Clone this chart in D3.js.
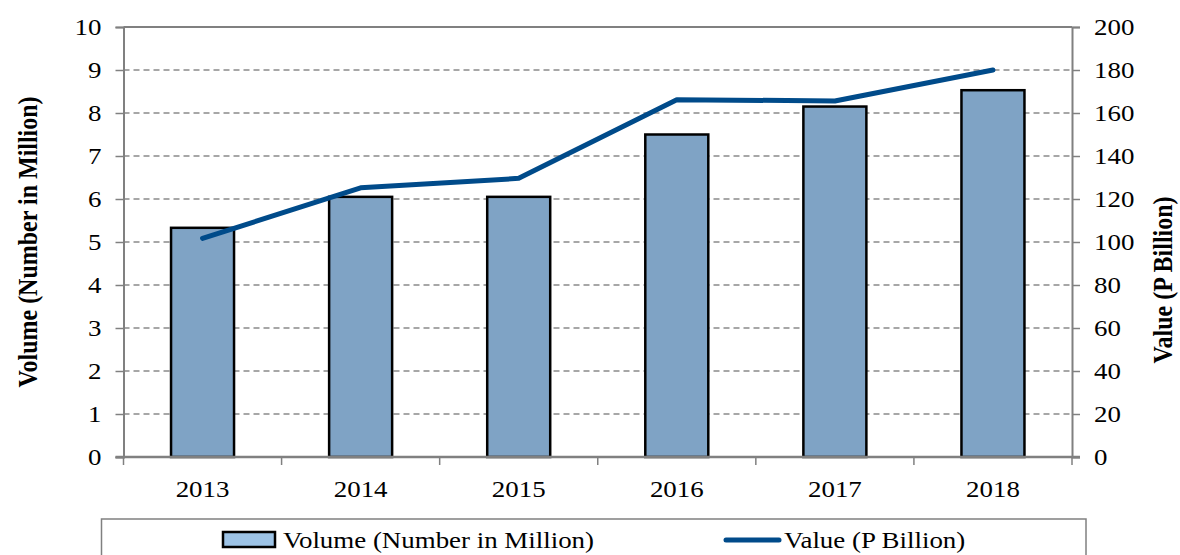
<!DOCTYPE html>
<html><head><meta charset="utf-8">
<script src="https://cdn.jsdelivr.net/npm/d3@7"></script>
<style>body{margin:0;background:#fff}svg{display:block}text{font-family:"Liberation Serif","Times New Roman",serif;fill:#000}</style>
</head><body>
<svg id="c" width="1180" height="555"></svg>
<script>
const years = ["2013","2014","2015","2016","2017","2018"];
const volume = [5.33, 6.05, 6.05, 7.5, 8.15, 8.53];
const value = [101.7, 125.2, 129.6, 166.2, 165.6, 180];
const leftTicks = [0,1,2,3,4,5,6,7,8,9,10];
const rightTicks = [0,20,40,60,80,100,120,140,160,180,200];

const SX = 1.17; // horizontal stretch of glyphs in the reference
const svg = d3.select("#c");
const L = 123.5, R = 1072, T = 27, B = 457;
const xb = d3.scaleBand().domain(years).range([L, R]);
const yL = d3.scaleLinear().domain([0,10]).range([B, T]);
const yR = d3.scaleLinear().domain([0,200]).range([B, T]);

function stretched(sel, x, y, txt, anchor) {
  return sel.append("text")
    .attr("transform", `translate(${x},${y}) scale(${SX},1)`)
    .attr("text-anchor", anchor || "start").attr("font-size", 23).text(txt);
}

// gridlines
svg.append("g").selectAll("line").data(leftTicks.filter(d=>d>0 && d<10)).join("line")
  .attr("x1", L).attr("x2", R).attr("y1", d=>yL(d)).attr("y2", d=>yL(d))
  .attr("stroke", "#8a8a8a").attr("stroke-width", 1.5).attr("stroke-dasharray", "6,4");

// top border
svg.append("line").attr("x1", L).attr("x2", R).attr("y1", T).attr("y2", T)
  .attr("stroke", "#808080").attr("stroke-width", 2);

// bars
svg.append("g").selectAll("rect").data(years).join("rect")
  .attr("x", d=>xb(d) + xb.bandwidth()/2 - 31.5)
  .attr("width", 63)
  .attr("y", (d,i)=>yL(volume[i]))
  .attr("height", (d,i)=>B - yL(volume[i]))
  .attr("fill", "#7fa3c5").attr("stroke", "#000").attr("stroke-width", 2.5);

// axes
const axL = d3.axisLeft(yL).tickValues(leftTicks).tickSize(8).tickPadding(14).tickFormat(d3.format("d"));
const axR = d3.axisRight(yR).tickValues(rightTicks).tickSize(8).tickPadding(14).tickFormat(d3.format("d"));
const gL = svg.append("g").attr("transform", `translate(${L},0)`).call(axL);
const gR = svg.append("g").attr("transform", `translate(${R},0)`).call(axR);
[gL, gR].forEach(g => {
  g.select(".domain").attr("stroke", "#808080").attr("stroke-width", 2);
  g.selectAll(".tick line").attr("stroke", "#808080").attr("stroke-width", 1.5);
  g.selectAll(".tick text").each(function() {
    const t = d3.select(this);
    const x = +t.attr("x");
    t.attr("x", 0).attr("transform", `translate(${x},0) scale(${SX},1)`)
     .attr("font-size", 23).attr("fill", "#000");
  });
});
// x axis baseline with ticks at band boundaries
svg.append("line").attr("x1", L-8).attr("x2", R+8).attr("y1", B).attr("y2", B)
  .attr("stroke", "#808080").attr("stroke-width", 2.5);
const bounds = years.map(d=>xb(d)).concat([R]);
svg.append("g").selectAll("line").data(bounds).join("line")
  .attr("x1", d=>d).attr("x2", d=>d).attr("y1", B).attr("y2", B+8)
  .attr("stroke", "#808080").attr("stroke-width", 1.5);
const xl = svg.append("g");
years.forEach(d => stretched(xl, xb(d)+xb.bandwidth()/2, 497, d, "middle"));

// line
const line = d3.line().x((d,i)=>xb(years[i])+xb.bandwidth()/2).y(d=>yR(d));
svg.append("path").datum(value).attr("d", line)
  .attr("fill", "none").attr("stroke", "#004b8a").attr("stroke-width", 5)
  .attr("stroke-linecap", "round").attr("stroke-linejoin", "round");

// axis titles
svg.append("text").attr("transform", `translate(37,242) rotate(-90) scale(1,${SX})`)
  .attr("text-anchor", "middle").attr("font-size", 24).attr("font-weight", "bold")
  .text("Volume (Number in Million)");
svg.append("text").attr("transform", `translate(1172,280) rotate(-90) scale(1,${SX})`)
  .attr("text-anchor", "middle").attr("font-size", 24).attr("font-weight", "bold")
  .text("Value (P Billion)");

// legend
svg.append("rect").attr("x", 101.5).attr("y", 519).attr("width", 984.5).attr("height", 60)
  .attr("fill", "#fff").attr("stroke", "#808080").attr("stroke-width", 1.5);
svg.append("rect").attr("x", 223).attr("y", 532).attr("width", 52).attr("height", 15)
  .attr("fill", "#9dc3e6").attr("stroke", "#000").attr("stroke-width", 2.5);
stretched(svg, 283, 548, "Volume (Number in Million)");
svg.append("line").attr("x1", 726).attr("x2", 779).attr("y1", 540).attr("y2", 540)
  .attr("stroke", "#004b8a").attr("stroke-width", 5).attr("stroke-linecap", "round");
stretched(svg, 784, 548, "Value (P Billion)");
</script>
</body></html>
